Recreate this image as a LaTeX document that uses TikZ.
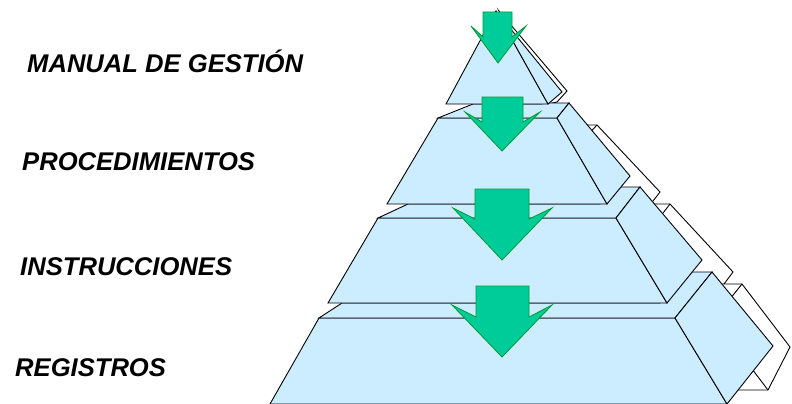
\documentclass[tikz,border=0pt]{standalone}
\usepackage{fontspec}
\setmainfont{Liberation Sans}
\definecolor{capa}{RGB}{204,236,255}
\definecolor{flecha}{RGB}{0,204,153}
\definecolor{flechaborde}{RGB}{0,153,51}
\tikzset{
  cara/.style={draw=black,fill=capa,line width=0.9pt,line join=miter},
  sombra/.style={draw=black,fill=white,line width=0.9pt},
  bajada/.style={draw=flechaborde,fill=flecha,line width=0.8pt},
  nivel/.style={anchor=base west,inner sep=0pt,font=\fontsize{25.6}{30}\selectfont\bfseries\itshape}
}
\begin{document}
\begin{tikzpicture}[x=1pt,y=-1pt]
\useasboundingbox (0,0) rectangle (792,404);
% sombras
\draw[sombra] (499,11) -- (567,91) -- (557,102) -- (548,104) -- cycle;
\draw[sombra] (585,138) -- (577,125) -- (597,125) -- (660,192) -- (636,223) -- cycle;
\draw[sombra] (597,125) -- (585,138);
\draw[sombra] (646,235) -- (651,204) -- (670,204) -- (733,272) -- (697,320) -- cycle;
\draw[sombra] (670,204) -- (646,235);
\draw[sombra] (700,330) -- (722,284) -- (742,284) -- (790,347) -- (768,390) -- (700,390) -- cycle;
\draw[sombra] (742,284) -- (705,330);
\draw[sombra] (768,390) -- (730,340);
% registros
\draw[cara] (319,318) -- (675,318) -- (727,404) -- (270,404) -- cycle;
\draw[cara] (319,318) -- (342,303) -- (660,303) -- (692,272) -- (712,272) -- (675,318) -- cycle;
\draw[cara] (675,318) -- (712,272) -- (773,346) -- (727,404) -- cycle;
% instrucciones
\draw[cara] (378,218) -- (616,218) -- (667,303) -- (328,303) -- cycle;
\draw[cara] (378,218) -- (408,204) -- (600,204) -- (621,187) -- (640,187) -- (616,218) -- cycle;
\draw[cara] (616,218) -- (640,187) -- (702,260) -- (667,303) -- cycle;
% procedimientos
\draw[cara] (438,118) -- (557,118) -- (607,204) -- (387,204) -- cycle;
\draw[cara] (438,118) -- (473,104) -- (540,104) -- (549,103) -- (569,103) -- (557,118) -- cycle;
\draw[cara] (557,118) -- (569,103) -- (630,176) -- (607,204) -- cycle;
% manual
\draw[cara] (496,11) -- (548,104) -- (446,104) -- cycle;
\draw[cara] (496,11) -- (562,92) -- (548,104) -- cycle;
% flechas
\draw[bajada] (483,12) -- (512,12) -- (512,37) -- (526,26) -- (498,63) -- (471,26) -- (483,37) -- cycle;
\draw[bajada] (482,97) -- (523,97) -- (523,122) -- (540,112) -- (502,151) -- (465,112) -- (482,122) -- cycle;
\draw[bajada] (475,189) -- (529,189) -- (529,219) -- (552,208) -- (502,260) -- (453,208) -- (475,219) -- cycle;
\draw[bajada] (476,286) -- (529,286) -- (529,317) -- (552,305) -- (502,357) -- (452,305) -- (476,317) -- cycle;
% textos
\node[nivel] (manual) at (27,72) {MANUAL DE GESTIÓN};
\node[nivel] (proced) at (22,170) {PROCEDIMIENTOS};
\node[nivel] (instruc) at (20,275) {INSTRUCCIONES};
\node[nivel] (regis) at (15,376) {REGISTROS};
\end{tikzpicture}
\end{document}
